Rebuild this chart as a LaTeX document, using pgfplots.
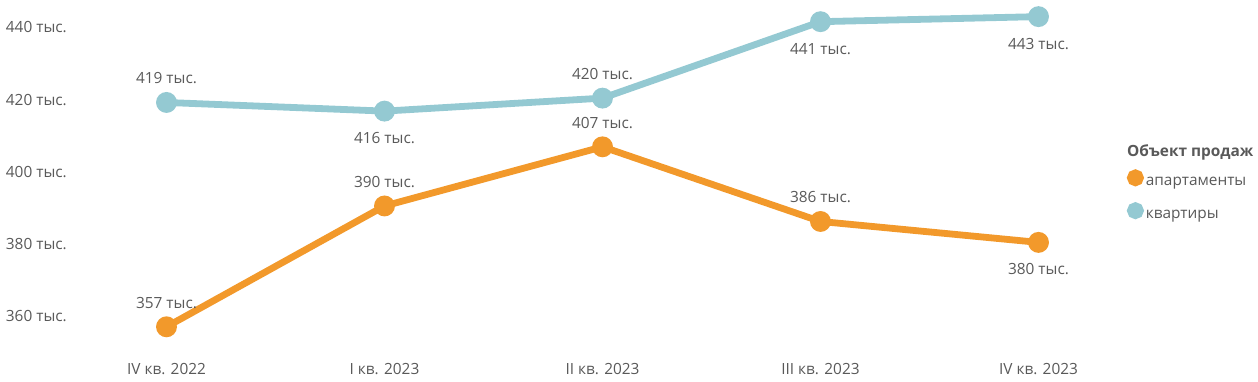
\documentclass[border=0pt]{standalone}
\usepackage{pgfplots}
\pgfplotsset{compat=1.18}
\usepackage{fontspec}
\setmainfont{Open Sans}
\definecolor{orng}{RGB}{242,153,43}
\definecolor{lblue}{RGB}{148,201,210}
\definecolor{txt}{RGB}{89,89,89}
\begin{document}
\begin{tikzpicture}[font=\fontsize{15.4}{18}\selectfont, text=txt]
\begin{axis}[
  at={(166.5pt,47pt)}, anchor=south west,
  scale only axis, width=872pt, height=324.6pt,
  xmin=0, xmax=4, ymin=355, ymax=445,
  clip=false,
  axis line style={draw=none},
  major tick length=0pt,
  xtick={0,1,2,3,4},
  xticklabels={IV кв. 2022, I кв. 2023, II кв. 2023, III кв. 2023, IV кв. 2023},
  ytick={360,380,400,420,440},
  yticklabels={360 тыс., 380 тыс., 400 тыс., 420 тыс., 440 тыс.},
  tick label style={font=\fontsize{15.4}{18}\selectfont},
  xticklabel style={anchor=base, inner sep=0pt, yshift=-40pt, text=txt},
  yticklabel style={anchor=east, inner sep=0pt, xshift=-99.5pt, text=txt},
  legend style={at={(axis description cs:1.1015,0.507)}, anchor=north west,
    draw=none, fill=none, inner sep=0pt, outer sep=0pt,
    nodes={inner sep=0pt, text=txt}, column sep=2pt, row sep=15pt,
    font=\fontsize{15.4}{18}\selectfont},
  legend cell align=left,
  legend image code/.code={\fill[#1] (5pt,4.5pt) circle (5pt);},
]
\addplot[orng, line width=6.8pt, mark=*, mark size=7pt, mark options={fill=orng, draw=none}]
  coordinates {(0,357.0) (1,390.5) (2,406.9) (3,386.2) (4,380.4)};
\addlegendentry{апартаменты}
\addplot[lblue, line width=6.8pt, mark=*, mark size=7pt, mark options={fill=lblue, draw=none}]
  coordinates {(0,419.2) (1,416.8) (2,420.4) (3,441.6) (4,443.0)};
\addlegendentry{квартиры}
% labels above
\addplot[draw=none, forget plot, nodes near coords, point meta=explicit symbolic,
  every node near coord/.style={anchor=center, yshift=24pt, text=txt, inner sep=0pt, font=\fontsize{15.4}{18}\selectfont}]
  coordinates {(0,357.0)[357 тыс.] (1,390.5)[390 тыс.] (2,406.9)[407 тыс.] (3,386.2)[386 тыс.]
               (0,419.2)[419 тыс.] (2,420.4)[420 тыс.]};
% labels below
\addplot[draw=none, forget plot, nodes near coords, point meta=explicit symbolic,
  every node near coord/.style={anchor=center, yshift=-27pt, text=txt, inner sep=0pt, font=\fontsize{15.4}{18}\selectfont}]
  coordinates {(4,380.4)[380 тыс.] (1,416.8)[416 тыс.] (3,441.6)[441 тыс.] (4,443.0)[443 тыс.]};
\node[anchor=base west, inner sep=0pt, font=\fontsize{15.4}{18}\selectfont\bfseries, text=txt]
  at (axis description cs:1.1015,0.5453) {Объект продаж};
\end{axis}
\pgfresetboundingbox
\path[use as bounding box] (0,0) rectangle (1258pt,381pt);
\end{tikzpicture}
\end{document}
